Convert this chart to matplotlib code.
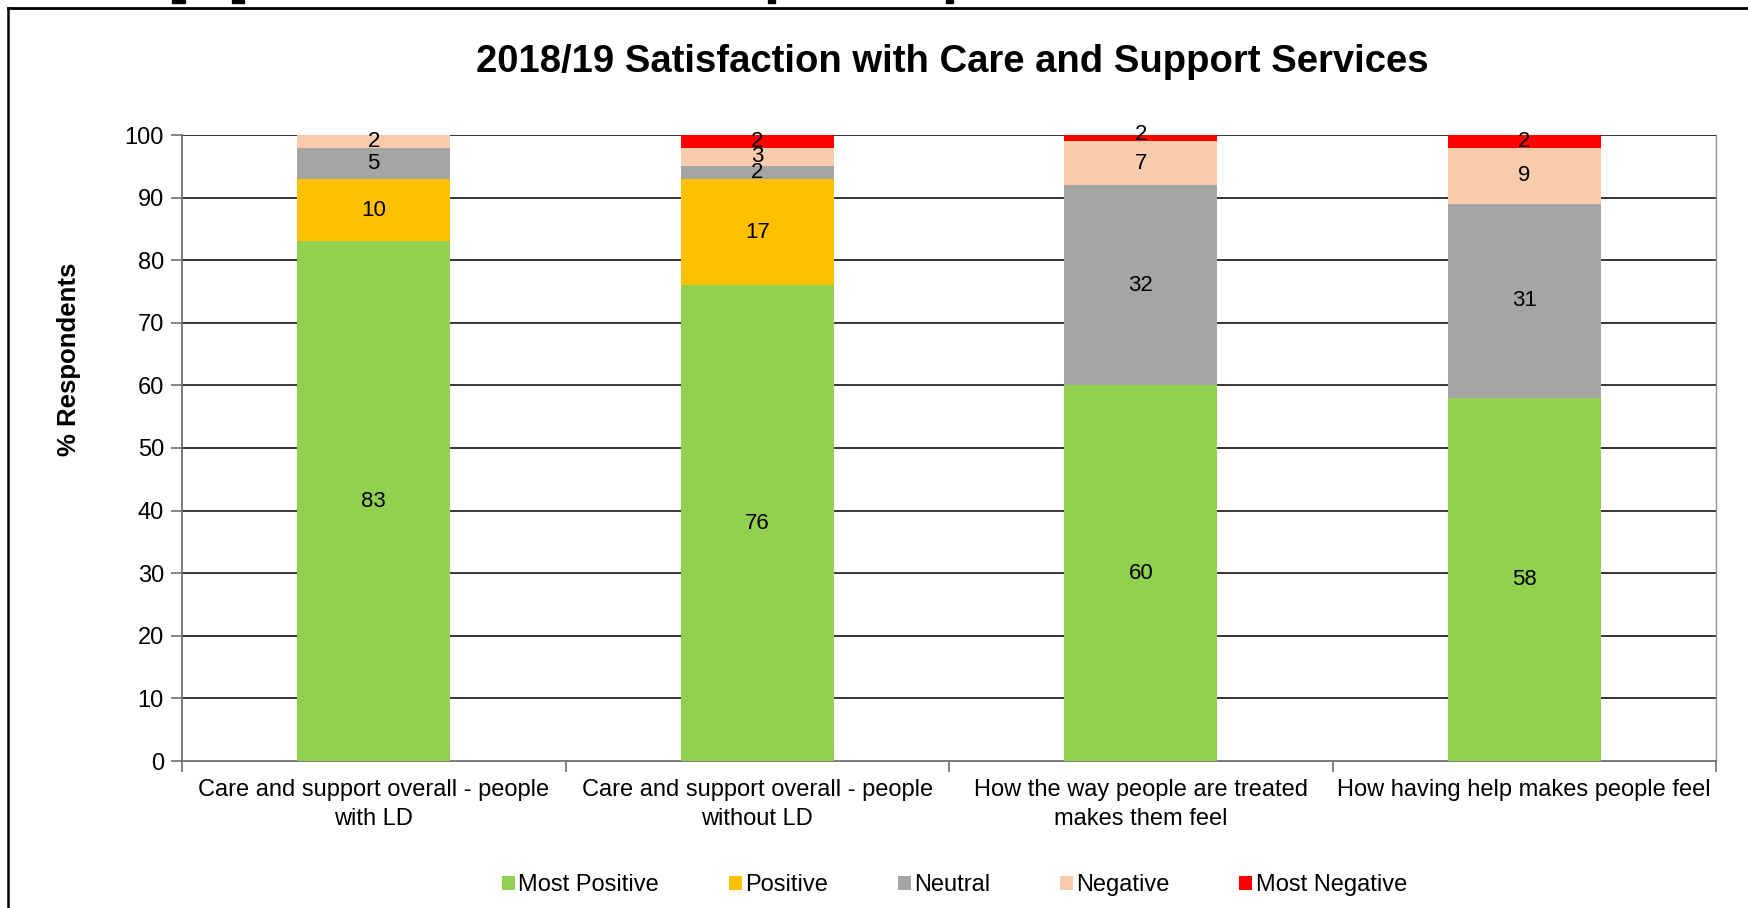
import matplotlib
matplotlib.use("Agg")
import matplotlib.pyplot as plt
from matplotlib.patches import Patch, Rectangle
from matplotlib.lines import Line2D
import numpy as np

plt.rcParams['font.family'] = ['Liberation Sans', 'DejaVu Sans']

categories = [
    "Care and support overall - people\nwith LD",
    "Care and support overall - people\nwithout LD",
    "How the way people are treated\nmakes them feel",
    "How having help makes people feel",
]
series_names = ["Most Positive", "Positive", "Neutral", "Negative", "Most Negative"]
most_positive = [83, 76, 60, 58]
positive = [10, 17, 0, 0]
neutral = [5, 2, 32, 31]
negative = [2, 3, 7, 9]
most_negative = [0, 2, 2, 2]
colors = ["#92D050", "#FFC000", "#A5A5A5", "#F8CBAD", "#FF0000"]
yticks = list(range(0, 101, 10))

series = [most_positive, positive, neutral, negative, most_negative]

W, H = 1748, 908
fig = plt.figure(figsize=(W / 100, H / 100), dpi=100)
ax = fig.add_axes([182 / W, 1 - 761 / H, (1716 - 182) / W, (761 - 135) / H])

x = np.arange(len(categories))
bottom = np.zeros(len(categories))
for vals, col in zip(series, colors):
    vals = np.array(vals, dtype=float)
    ax.bar(x, vals, bottom=bottom, width=0.4, color=col, zorder=3)
    for xi, b, v in zip(x, bottom, vals):
        if v > 0:
            ax.text(xi, b + v / 2, f"{v:g}", ha="center", va="center",
                    fontsize=16, color="black", zorder=5, clip_on=False)
    bottom += vals

ax.set_xlim(-0.5, len(categories) - 0.5)
ax.set_ylim(0, 100)
ax.set_yticks(yticks)
ax.tick_params(axis="y", labelsize=17, length=8, width=1.2, color="#707070", pad=5)
for yv in yticks[1:]:
    ax.axhline(yv, color="black", lw=1.1, zorder=1)

ax.set_xticks(x)
ax.set_xticklabels(categories, fontsize=17, linespacing=1.42)
ax.tick_params(axis="x", length=0, pad=13)
ax.set_xticks(np.arange(-0.5, len(categories)), minor=True)
ax.tick_params(axis="x", which="minor", length=8, width=1.2, color="#707070")

for s in ["left", "bottom", "right"]:
    ax.spines[s].set_color("#707070")
    ax.spines[s].set_linewidth(1.3)
ax.spines["top"].set_visible(False)
ax.spines["right"].set_color("#909090")
ax.spines["right"].set_linewidth(1.0)

fig.text(69 / W, 1 - 359 / H, "% Respondents", rotation=90, ha="center", va="center",
         fontsize=18.5, fontweight="bold")

fig.text(0.545, 1 - 62 / H, "2018/19 Satisfaction with Care and Support Services",
         ha="center", va="center", fontsize=27.5, fontweight="bold")

handles = [Patch(facecolor=c, edgecolor="none") for c in colors]
fig.legend(handles, series_names, loc="center", bbox_to_anchor=(0.546, 1 - 885 / H),
           ncol=5, frameon=False, fontsize=17, handlelength=0.55, handleheight=0.55,
           handletextpad=0.15, columnspacing=2.95)

# page frame
fig.add_artist(Line2D([8 / W, 1.0], [1 - 8 / H, 1 - 8 / H], color="black", lw=2.0,
                      transform=fig.transFigure))
fig.add_artist(Line2D([8 / W, 8 / W], [0, 1 - 8 / H], color="black", lw=1.8,
                      transform=fig.transFigure))
for x0, w in [(172, 13), (232, 12), (768, 7), (946, 7)]:
    fig.add_artist(Rectangle((x0 / W, 1 - 3 / H), w / W, 3 / H, color="black",
                             transform=fig.transFigure))

fig.savefig("out.png", dpi=100)
